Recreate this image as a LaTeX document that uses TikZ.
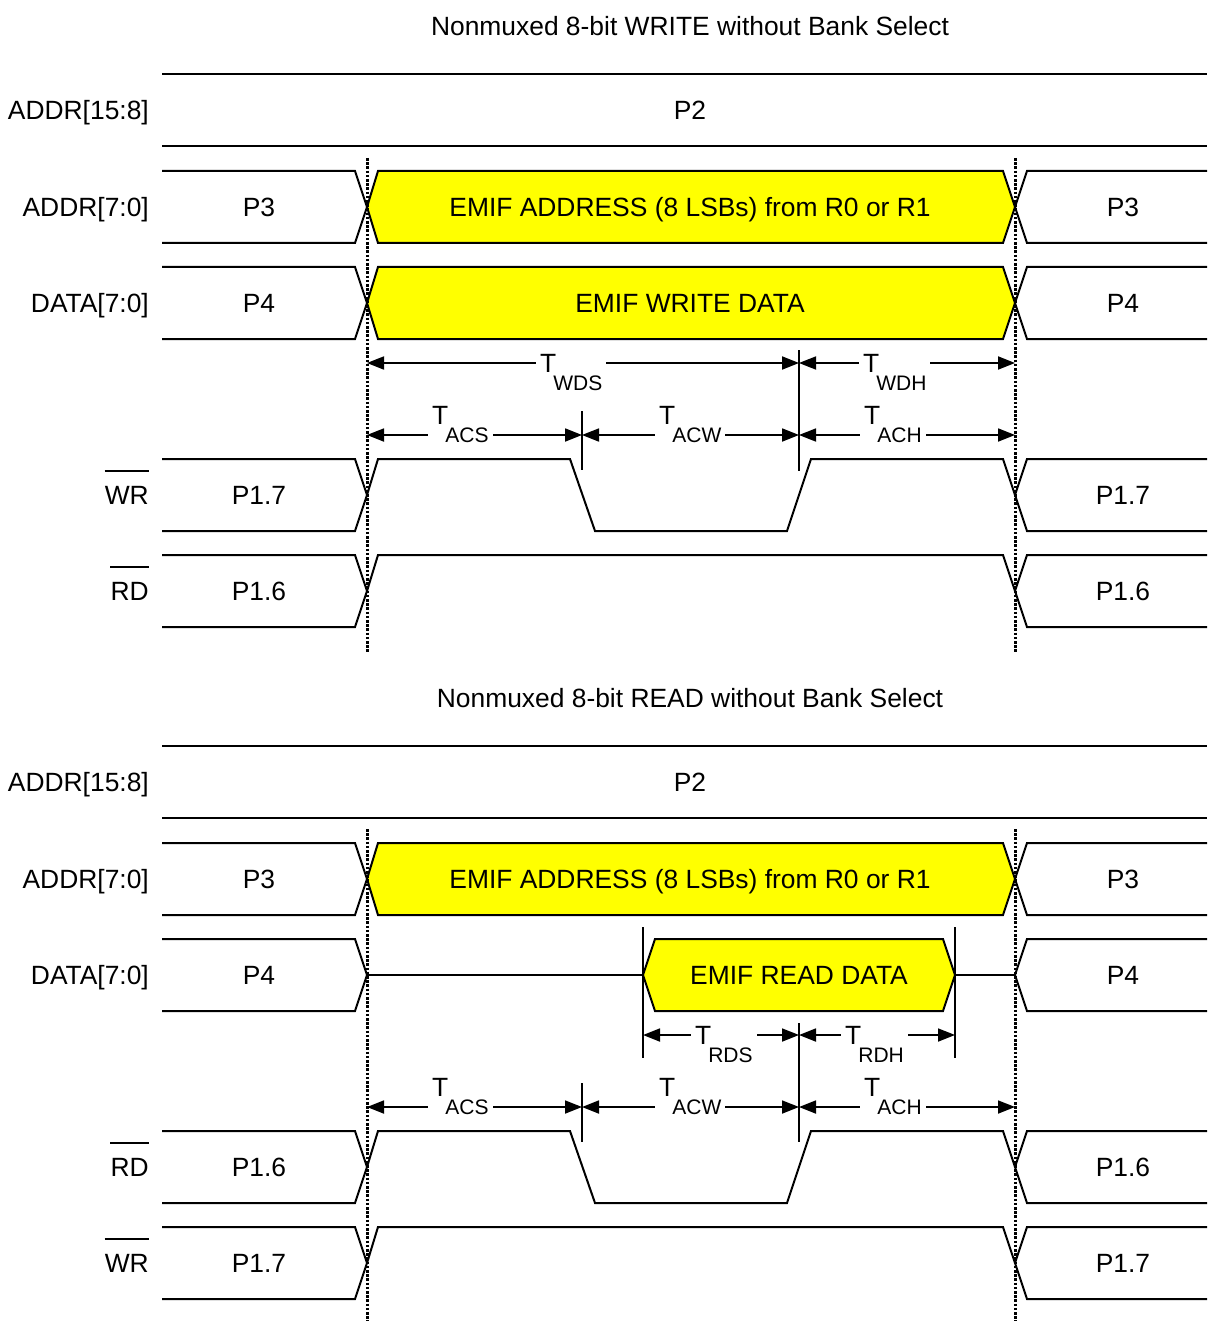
\documentclass[tikz,border=0pt]{standalone}
\usepackage{fontspec}
\setmainfont{Liberation Sans}
\usetikzlibrary{arrows.meta}

\definecolor{busyellow}{RGB}{255,255,0}

\tikzset{
  sig/.style={line width=2pt},
  hex/.style={sig, fill=busyellow},
  guide/.style={line width=3pt, dash pattern=on 2.6pt off 1.6pt},
  tick/.style={line width=1.8pt},
  dim/.style={line width=1.8pt,
    {Triangle[length=17pt,width=13pt]}-{Triangle[length=17pt,width=13pt]}},
  txt/.style={font=\fontsize{26.4}{30}\selectfont, inner sep=0pt},
  val/.style={txt, anchor=base},
  signame/.style={txt, anchor=base east},
  tlab/.style={txt, anchor=base west, fill=white, inner xsep=4pt, inner ysep=1pt},
}

% T with a low subscript, as the timing labels are set
\newcommand{\tsub}[1]{T\kern-3pt\raisebox{-17.5pt}{\fontsize{21}{22}\selectfont #1}}

% bus segment before and after the access window
\newcommand{\busleft}[3]{%
  \draw[sig] (162,#2) -- (355,#2) -- (367,#2+36) -- (355,#2+72) -- (162,#2+72);
  \node[val] (#1) at (259,#2+45.5) {#3};}
\newcommand{\busright}[3]{%
  \draw[sig] (1207,#2) -- (1027,#2) -- (1015,#2+36) -- (1027,#2+72) -- (1207,#2+72);
  \node[val] (#1) at (1123,#2+45.5) {#3};}

\begin{document}
\begin{tikzpicture}[x=1pt, y=-1pt]
\useasboundingbox (0,0) rectangle (1207,1321);

%% ---------------- WRITE ----------------
\node[val] (wtitle) at (690,35.5) {Nonmuxed 8-bit WRITE without Bank Select};

% ADDR[15:8]
\node[signame] (wahn) at (149,119.5) {ADDR[15:8]};
\draw[sig] (162,74) -- (1207,74);
\draw[sig] (162,146) -- (1207,146);
\node[val] (wahv) at (690,119.5) {P2};

% ADDR[7:0]
\node[signame] (waln) at (149,216.5) {ADDR[7:0]};
\busleft{wall}{171}{P3}
\draw[hex] (367,207) -- (378,171) -- (1003,171) -- (1015,207) -- (1003,243) -- (378,243) -- cycle;
\node[val] (walv) at (690,216.5) {EMIF ADDRESS (8 LSBs) from R0 or R1};
\busright{walr}{171}{P3}

% DATA[7:0]
\node[signame] (wdn) at (149,312.5) {DATA[7:0]};
\busleft{wdl}{267}{P4}
\draw[hex] (367,303) -- (378,267) -- (1003,267) -- (1015,303) -- (1003,339) -- (378,339) -- cycle;
\node[val] (wdv) at (690,312.5) {EMIF WRITE DATA};
\busright{wdr}{267}{P4}

% timing
\draw[tick] (799,350) -- (799,471);
\draw[tick] (582,411) -- (582,470);
\coordinate (ws0) at (367,363);
\coordinate (ws1) at (799,363);
\coordinate (ws2) at (1015,363);
\draw[dim] (ws0) -- (ws1);
\draw[dim] (ws1) -- (ws2);
\node[tlab] (twds) at (536,372.5) {\tsub{WDS}};
\node[tlab] (twdh) at (859,372.5) {\tsub{WDH}};
\coordinate (wa0) at (367,435);
\coordinate (wa1) at (582,435);
\coordinate (wa2) at (799,435);
\coordinate (wa3) at (1015,435);
\draw[dim] (wa0) -- (wa1);
\draw[dim] (wa1) -- (wa2);
\draw[dim] (wa2) -- (wa3);
\node[tlab] (wacs) at (428,424.5) {\tsub{ACS}};
\node[tlab] (wacw) at (655,424.5) {\tsub{ACW}};
\node[tlab] (wach) at (860,424.5) {\tsub{ACH}};

% WR
\node[signame] (wwrn) at (149,504.5) {WR};
\draw[sig] ([yshift=15pt]wwrn.north west) -- ([yshift=15pt]wwrn.north east);
\busleft{wwrl}{459}{P1.7}
\draw[sig] (367,495) -- (378,459) -- (570,459) -- (595,531) -- (787,531) -- (811,459) -- (1003,459) -- (1015,495);
\busright{wwrr}{459}{P1.7}

% RD
\node[signame] (wrdn) at (149,600.5) {RD};
\draw[sig] ([yshift=15pt]wrdn.north west) -- ([yshift=15pt]wrdn.north east);
\busleft{wrdl}{555}{P1.6}
\draw[sig] (367,591) -- (378,555) -- (1003,555) -- (1015,591);
\busright{wrdr}{555}{P1.6}

\draw[guide] (367,158) -- (367,652);
\draw[guide] (1015,158) -- (1015,652);

%% ---------------- READ ----------------
\node[val] (rtitle) at (690,707.5) {Nonmuxed 8-bit READ without Bank Select};

% ADDR[15:8]
\node[signame] (rahn) at (149,791.5) {ADDR[15:8]};
\draw[sig] (162,746) -- (1207,746);
\draw[sig] (162,818) -- (1207,818);
\node[val] (rahv) at (690,791.5) {P2};

% ADDR[7:0]
\node[signame] (raln) at (149,888.5) {ADDR[7:0]};
\busleft{rall}{843}{P3}
\draw[hex] (367,879) -- (378,843) -- (1003,843) -- (1015,879) -- (1003,915) -- (378,915) -- cycle;
\node[val] (ralv) at (690,888.5) {EMIF ADDRESS (8 LSBs) from R0 or R1};
\busright{ralr}{843}{P3}

% DATA[7:0]
\node[signame] (rdn) at (149,984.5) {DATA[7:0]};
\busleft{rdl}{939}{P4}
\draw[sig] (367,975) -- (643,975);
\draw[hex] (643,975) -- (655,939) -- (943,939) -- (955,975) -- (943,1011) -- (655,1011) -- cycle;
\draw[sig] (955,975) -- (1015,975);
\node[val] (rdv) at (799,984.5) {EMIF READ DATA};
\busright{rdr}{939}{P4}

% timing
\draw[tick] (643,927) -- (643,1058);
\draw[tick] (955,927) -- (955,1058);
\draw[tick] (799,1023) -- (799,1142);
\draw[tick] (582,1083) -- (582,1142);
\coordinate (rs0) at (643,1035);
\coordinate (rs1) at (799,1035);
\coordinate (rs2) at (955,1035);
\draw[dim] (rs0) -- (rs1);
\draw[dim] (rs1) -- (rs2);
\node[tlab] (trds) at (691,1044.5) {\tsub{RDS}};
\node[tlab] (trdh) at (841,1044.5) {\tsub{RDH}};
\coordinate (ra0) at (367,1107);
\coordinate (ra1) at (582,1107);
\coordinate (ra2) at (799,1107);
\coordinate (ra3) at (1015,1107);
\draw[dim] (ra0) -- (ra1);
\draw[dim] (ra1) -- (ra2);
\draw[dim] (ra2) -- (ra3);
\node[tlab] (racs) at (428,1096.5) {\tsub{ACS}};
\node[tlab] (racw) at (655,1096.5) {\tsub{ACW}};
\node[tlab] (rach) at (860,1096.5) {\tsub{ACH}};

% RD
\node[signame] (rrdn) at (149,1176.5) {RD};
\draw[sig] ([yshift=15pt]rrdn.north west) -- ([yshift=15pt]rrdn.north east);
\busleft{rrdl}{1131}{P1.6}
\draw[sig] (367,1167) -- (378,1131) -- (570,1131) -- (595,1203) -- (787,1203) -- (811,1131) -- (1003,1131) -- (1015,1167);
\busright{rrdr}{1131}{P1.6}

% WR
\node[signame] (rwrn) at (149,1272.5) {WR};
\draw[sig] ([yshift=15pt]rwrn.north west) -- ([yshift=15pt]rwrn.north east);
\busleft{rwrl}{1227}{P1.7}
\draw[sig] (367,1263) -- (378,1227) -- (1003,1227) -- (1015,1263);
\busright{rwrr}{1227}{P1.7}

\draw[guide] (367,829) -- (367,1321);
\draw[guide] (1015,829) -- (1015,1321);
\end{tikzpicture}
\end{document}
